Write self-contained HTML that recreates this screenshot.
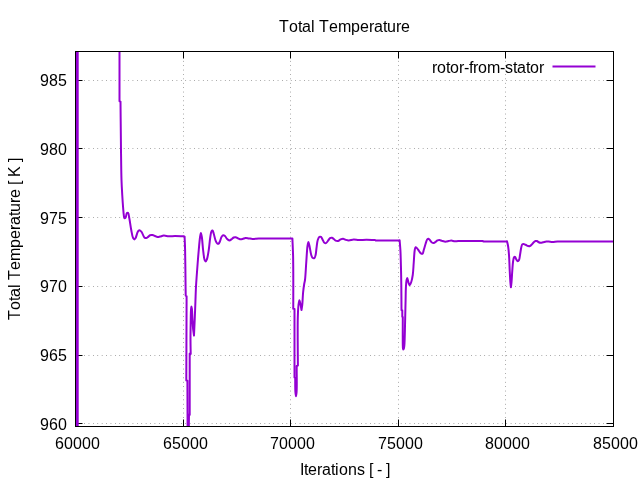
<!DOCTYPE html>
<html lang="en"><head><meta charset="utf-8"><title>Total Temperature</title>
<style>html,body{margin:0;padding:0;background:#fff;overflow:hidden}svg{display:block}</style></head>
<body>
<svg width="640" height="480" viewBox="0 0 640 480">
<rect width="640" height="480" fill="#fff"/>
<path d="M75.5,80.5H613.5M75.5,148.5H613.5M75.5,217.5H613.5M75.5,286.5H613.5M75.5,355.5H613.5M75.5,423.5H613.5M183.5,426.5V51.5M290.5,426.5V51.5M398.5,426.5V51.5M505.5,426.5V51.5" stroke="#000" stroke-opacity="0.47" stroke-width="1" stroke-dasharray="0.7 3.697" stroke-dashoffset="0.07" fill="none"/>
<path d="M75.5,80.5h7M613.5,80.5h-7M75.5,148.5h7M613.5,148.5h-7M75.5,217.5h7M613.5,217.5h-7M75.5,286.5h7M613.5,286.5h-7M75.5,355.5h7M613.5,355.5h-7M75.5,423.5h7M613.5,423.5h-7M75.5,426.5v-7M75.5,51.5v7M183.5,426.5v-7M183.5,51.5v7M290.5,426.5v-7M290.5,51.5v7M398.5,426.5v-7M398.5,51.5v7M505.5,426.5v-7M505.5,51.5v7M613.5,426.5v-7M613.5,51.5v7" stroke="#000" stroke-width="1" fill="none"/>
<defs><clipPath id="c"><rect x="75.5" y="51.5" width="538" height="375"/></clipPath></defs>
<g clip-path="url(#c)"><rect x="76" y="51" width="2.7" height="376" fill="#9400d3"/>
<path d="M119.5,51.5L119.5,101.2L120.5,101.6C120.67,117.73 120.81,135.79 121,150C121.15,161.19 121.22,171.72 121.5,180C121.70,185.86 121.97,190.23 122.25,195C122.51,199.36 122.81,203.86 123.1,207.5C123.33,210.32 123.52,213.05 123.8,215C123.98,216.26 123.95,217.88 124.4,218.1C124.69,218.24 125.26,217.91 125.6,217.5C126.23,216.75 126.24,213.68 126.9,213.1C127.24,212.80 127.76,212.67 128.1,212.9C128.85,213.40 128.96,216.48 129.4,218.75C130.01,221.89 130.58,226.57 131.25,230C131.83,232.93 132.28,236.61 133.1,238.1C133.49,238.80 133.98,239.41 134.4,239.4C134.81,239.39 135.20,238.76 135.6,238.1C136.42,236.76 137.04,232.39 138.1,231.25C138.67,230.64 139.41,230.28 140,230.4C140.69,230.55 141.28,231.60 141.9,232.5C142.77,233.77 143.43,236.67 144.4,237.5C144.97,237.99 145.65,238.18 146.25,238.1C146.89,238.02 147.49,237.36 148.1,236.9C148.75,236.41 149.27,235.57 150,235.25C150.73,234.93 151.68,234.88 152.5,235C153.35,235.12 154.17,235.67 155,236C155.83,236.33 156.65,236.91 157.5,237C158.32,237.09 159.09,236.79 160,236.6C161.13,236.36 162.40,235.69 163.75,235.6C165.29,235.50 166.99,236.16 168.75,236.25C170.71,236.35 172.74,236.10 175,236.1C177.67,236.10 180.83,236.23 183.75,236.3L184.6,236.6C184.77,241.07 184.96,244.64 185.1,250C185.30,258.01 185.39,271.62 185.5,280C185.58,286.04 185.63,290.40 185.7,295.6L186.6,296.3L186.3,380.5L187.4,380.8L187.6,430L188.8,430L189,414.5L189.7,414.8L189.7,353.6L190.7,353.9C190.63,349.27 190.51,344.93 190.5,340C190.49,334.39 190.60,327.39 190.7,322C190.78,317.60 190.80,312.78 191,310C191.11,308.52 191.23,306.61 191.4,306.6C191.54,306.59 191.76,307.94 191.9,309C192.17,311.04 192.21,314.85 192.4,318C192.61,321.48 192.78,325.82 193.1,329C193.35,331.46 193.70,333.33 194,335.5C194.23,330.33 194.47,325.36 194.7,320C194.94,314.22 195.18,307.78 195.4,302C195.61,296.64 195.75,291.16 196,286.5C196.20,282.66 196.44,279.62 196.7,276C196.97,272.13 197.27,268.15 197.6,264C197.95,259.51 198.34,254.53 198.75,250C199.14,245.71 199.53,240.62 200,237.5C200.28,235.62 200.58,233.00 200.9,233C201.22,233.00 201.60,235.61 201.9,237.5C202.39,240.61 202.62,246.07 203.1,250C203.53,253.53 203.90,258.18 204.6,260C204.90,260.77 205.25,261.51 205.6,261.5C206.01,261.49 206.51,260.40 206.9,259.4C207.67,257.43 208.22,253.37 208.75,250C209.36,246.14 209.70,240.94 210.25,237.5C210.64,235.05 210.85,232.28 211.5,231.25C211.79,230.79 212.20,230.41 212.5,230.5C213.00,230.64 213.33,232.45 213.75,233.75C214.35,235.60 214.87,238.83 215.6,240.6C216.10,241.81 216.62,243.05 217.25,243.5C217.64,243.78 218.12,243.92 218.5,243.75C219.08,243.49 219.55,242.23 220,241.25C220.57,240.02 220.85,237.96 221.5,236.9C221.96,236.15 222.50,235.38 223.1,235.25C223.67,235.13 224.43,235.55 225,236C225.73,236.58 226.14,238.01 226.9,238.75C227.62,239.45 228.56,240.37 229.4,240.4C230.22,240.43 231.15,239.51 231.9,239C232.58,238.54 233.09,237.78 233.75,237.5C234.33,237.25 234.95,237.14 235.6,237.25C236.39,237.38 237.31,238.16 238.1,238.5C238.77,238.79 239.31,239.11 240,239.2C240.77,239.31 241.63,239.17 242.5,239C243.49,238.80 244.55,238.10 245.6,238C246.64,237.90 247.65,238.26 248.75,238.4C249.95,238.56 251.09,238.86 252.5,238.9C254.32,238.95 256.67,238.47 258.75,238.4C260.83,238.33 262.20,238.48 265,238.5C270.76,238.55 282.60,238.50 291.4,238.5L292.4,238.5C292.63,244.42 292.95,249.62 293.1,256.25C293.30,264.68 293.28,275.87 293.3,285C293.32,293.29 293.27,300.83 293.25,308.75L294.5,309L294.5,377.5L295.2,377.8C295.27,382.53 295.14,388.65 295.4,392C295.54,393.85 295.80,396.30 296,396.3C296.20,396.30 296.45,394.04 296.6,392C296.96,387.00 296.67,374.67 296.7,366L297.9,365.6C297.83,357.07 297.71,348.26 297.7,340C297.69,332.26 297.61,323.90 297.8,317.5C297.94,312.72 298.11,308.18 298.5,305C298.74,303.01 299.05,300.21 299.4,300.2C299.75,300.19 300.25,303.38 300.6,305C300.95,306.64 301.20,308.33 301.5,310C301.75,308.33 302.03,307.05 302.25,305C302.60,301.78 302.73,296.26 303.1,292.5C303.41,289.39 303.82,286.30 304.2,284C304.46,282.41 304.75,281.81 305,280C305.51,276.24 305.83,268.25 306.25,262.5C306.66,256.92 306.96,249.62 307.5,246C307.77,244.20 308.07,242.01 308.4,242C308.71,241.99 309.05,244.04 309.4,245.5C309.97,247.88 310.55,252.81 311.25,255C311.64,256.22 311.87,257.26 312.5,257.75C313.00,258.14 313.91,258.37 314.4,258.1C315.04,257.74 315.28,256.26 315.6,255C316.07,253.16 316.16,250.41 316.5,248C316.87,245.42 317.08,242.00 317.75,240C318.19,238.68 318.71,237.32 319.4,236.9C319.87,236.62 320.54,236.64 321,236.9C321.63,237.25 321.98,238.50 322.5,239.4C323.10,240.43 323.65,242.20 324.4,242.75C324.89,243.11 325.48,243.28 326,243.1C326.73,242.85 327.43,241.44 328.1,240.6C328.76,239.77 329.27,238.55 330,238.1C330.57,237.75 331.30,237.62 331.9,237.75C332.55,237.89 333.15,238.54 333.75,239C334.38,239.48 334.88,240.28 335.6,240.6C336.33,240.92 337.30,241.07 338.1,240.9C338.97,240.71 339.74,239.76 340.6,239.4C341.41,239.06 342.28,238.70 343.1,238.75C343.94,238.80 344.71,239.48 345.6,239.75C346.58,240.04 347.58,240.39 348.75,240.4C350.22,240.42 352.08,239.55 353.75,239.5C355.41,239.45 356.91,240.03 358.75,240.1C360.99,240.18 363.65,239.77 366.25,239.75C369.05,239.72 372.08,239.92 375,240L375.6,240.4L398.75,240.4L399.6,240.2C399.87,243.47 400.18,246.20 400.4,250C400.70,255.24 400.85,262.72 401,268.75C401.14,274.36 401.22,278.99 401.3,285C401.40,292.48 401.43,301.80 401.5,310.2L402.3,310.5L402.3,316.8L402.8,317.1C402.80,326.40 402.66,340.14 402.8,345C402.85,346.72 402.83,347.67 403,348.5C403.10,348.98 403.25,349.59 403.4,349.6C403.55,349.61 403.76,348.95 403.9,348.5C404.10,347.85 404.19,347.07 404.3,346C404.50,344.09 404.59,340.94 404.7,338C404.83,334.40 404.90,330.08 405,326C405.10,321.75 405.20,317.33 405.3,313C405.40,308.67 405.50,304.29 405.6,300C405.70,295.79 405.69,291.13 405.9,287.5C406.07,284.68 406.25,281.69 406.6,280C406.78,279.11 407.01,277.99 407.25,278C407.61,278.01 408.06,281.20 408.5,282.5C408.85,283.53 409.17,285.18 409.6,285.2C410.07,285.22 410.78,283.31 411.25,282C411.91,280.15 412.36,277.68 412.75,275C413.27,271.45 413.42,266.67 413.75,262.5C414.08,258.33 414.24,252.64 414.75,250C414.99,248.73 415.14,247.42 415.6,247.25C415.94,247.13 416.47,247.69 416.9,248.1C417.51,248.68 418.13,249.77 418.75,250.6C419.37,251.43 419.89,252.58 420.6,253.1C421.17,253.52 422.01,253.99 422.5,253.75C423.19,253.41 423.31,251.41 423.75,250C424.32,248.19 424.96,245.63 425.6,243.75C426.14,242.16 426.57,240.17 427.25,239.4C427.63,238.98 428.09,238.69 428.5,238.75C429.01,238.83 429.48,239.69 430,240.25C430.61,240.91 431.19,242.07 431.9,242.5C432.47,242.84 433.15,242.99 433.75,242.9C434.38,242.81 435.00,242.30 435.6,241.9C436.25,241.47 436.83,240.71 437.5,240.4C438.10,240.12 438.73,239.95 439.4,240C440.18,240.05 441.06,240.63 441.9,240.9C442.73,241.16 443.62,241.49 444.4,241.6C445.06,241.69 445.59,241.68 446.25,241.6C447.03,241.51 447.91,241.17 448.75,241C449.58,240.83 450.33,240.59 451.25,240.6C452.37,240.61 453.66,241.18 455,241.25C456.54,241.33 458.62,240.95 460,240.9C460.98,240.87 461.27,240.90 462.5,240.9C465.98,240.91 475.83,240.97 482.5,241L483.75,241.5L506.25,241.4L507,241.2C507.37,242.88 507.79,244.33 508.1,246.25C508.50,248.76 508.75,251.63 509,255C509.34,259.58 509.49,266.33 509.75,271.25C509.96,275.34 510.16,279.55 510.4,282.5C510.56,284.42 510.73,285.67 510.9,287.25C511.10,285.67 511.31,284.42 511.5,282.5C511.78,279.55 511.97,274.89 512.25,271.25C512.51,267.82 512.67,263.82 513.1,261.25C513.37,259.60 513.57,257.85 514.1,257.25C514.35,256.96 514.72,256.79 515,256.9C515.48,257.08 515.77,258.65 516.25,259.4C516.69,260.09 517.26,261.22 517.75,261.25C518.17,261.27 518.67,260.63 519,260C519.57,258.94 519.66,256.84 520,255C520.41,252.76 520.78,249.44 521.25,247.5C521.56,246.23 521.72,244.93 522.25,244.4C522.59,244.06 523.03,243.99 523.5,244C524.11,244.01 524.88,244.44 525.6,244.75C526.41,245.09 527.30,245.81 528.1,246C528.76,246.16 529.40,246.22 530,246C530.68,245.75 531.29,245.00 531.9,244.4C532.55,243.76 533.09,242.84 533.75,242.25C534.33,241.73 535.01,241.18 535.6,241C536.05,240.86 536.45,240.86 536.9,241C537.49,241.18 538.11,241.96 538.75,242.25C539.34,242.52 539.93,242.73 540.6,242.75C541.37,242.78 542.22,242.44 543.1,242.25C544.09,242.03 545.25,241.60 546.25,241.5C547.13,241.41 547.83,241.53 548.75,241.6C549.87,241.68 551.16,242.00 552.5,242C554.05,242.01 555.66,241.59 557.5,241.5C559.74,241.39 562.50,241.50 565,241.5L613.5,241.5" fill="none" stroke="#9400d3" stroke-width="2" stroke-linejoin="round"/></g>
<path d="M552.5,66.5H595.5" stroke="#9400d3" stroke-width="2" fill="none"/>
<rect x="75.5" y="51.5" width="538.0" height="375.0" fill="none" stroke="#000" stroke-width="1"/>
<g font-family="'Liberation Sans', Arial, sans-serif" font-size="16" fill="#000" style="font-kerning:none">
<text x="40 49 58" y="86">985</text>
<text x="40 49 58" y="155">980</text>
<text x="40 49 58" y="224">975</text>
<text x="40 49 58" y="292">970</text>
<text x="40 49 58" y="361">965</text>
<text x="40 49 58" y="430">960</text>
<text x="55 64 73 82 91" y="449">60000</text>
<text x="163 172 181 190 199" y="449">65000</text>
<text x="270 279 288 297 306" y="449">70000</text>
<text x="378 387 396 405 414" y="449">75000</text>
<text x="485 494 503 512 521" y="449">80000</text>
<text x="593 602 611 620 629" y="449">85000</text>
<text x="279 289 298 302 311 315 319 329 338 351 360 369 374 383 387 396 401" y="32">Total Temperature</text>
<text x="300 304 308 317 322 331 335 339 348 357 365 369 373 377 382 386" y="475">Iterations [ - ]</text>
<text x="432 437 446 450 459 464 469 473 478 487 500 505 513 517 526 530 539" y="73">rotor-from-stator</text>
<text x="-81 -71 -62 -58 -49 -45 -41 -31 -22 -9 0 9 14 23 27 36 41 50 54 58 62 73 77" y="0" transform="translate(20,239) rotate(-90)">Total Temperature [ K ]</text>
</g>
</svg>
</body></html>
